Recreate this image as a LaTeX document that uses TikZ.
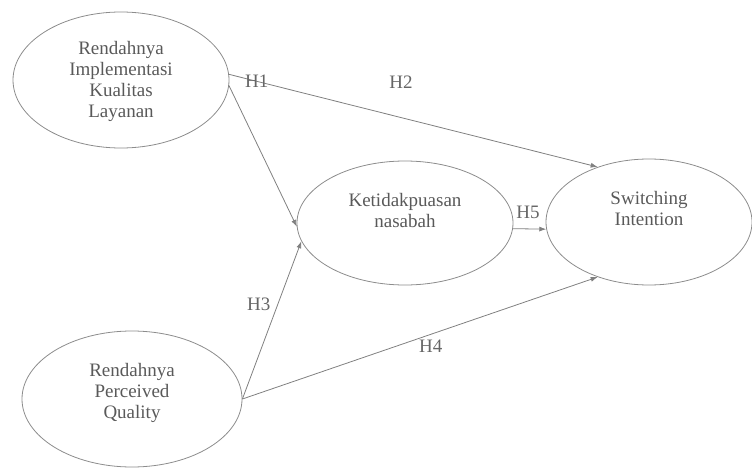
\documentclass[tikz,border=0pt]{standalone}
\usepackage{fontspec}
\setmainfont{Liberation Serif}
\usetikzlibrary{shapes.geometric,arrows.meta}

\begin{document}
\begin{tikzpicture}[x=1pt, y=-1pt,
  variabel/.style={draw=black!45, line width=0.8pt, ellipse, inner sep=0pt,
    text=black!65, font=\fontsize{19}{21}\selectfont},
  jalur/.style={draw=black!50, line width=0.8pt, -{Latex[length=7pt,width=5pt]}},
  hipotesis/.style={text=black!60, inner sep=1pt, font=\fontsize{19}{21}\selectfont}]

  \newcommand\teks[2]{\raisebox{#1}[\height][\depth]{\begin{tabular}{@{}c@{}}#2\end{tabular}}}

  \useasboundingbox (0,0) rectangle (752,468);

  % variabel
  \node[variabel, minimum width=216pt, minimum height=136pt] (kualitas) at (121,80)
    {\teks{-2pt}{Rendahnya\\Implementasi\\Kualitas\\Layanan}};

  \node[variabel, minimum width=216pt, minimum height=124pt] (ket) at (405,223)
    {\teks{10pt}{Ketidakpuasan\\nasabah}};

  \node[variabel, minimum width=206pt, minimum height=126pt] (swi) at (649,222)
    {\teks{11pt}{Switching\\Intention}};

  \node[variabel, minimum width=220pt, minimum height=136pt] (persepsi) at (132,399)
    {\teks{6pt}{Rendahnya\\Perceived\\Quality}};

  % jalur
  \draw[jalur] (kualitas.3) -- node[hipotesis, pos=0.075] (h1) {H1} (swi.133);
  \draw[jalur] (kualitas.-3) -- (ket.182);
  \draw[jalur] (persepsi.east) -- node[hipotesis, pos=0.6, left=6pt] (h3) {H3} (ket.190);
  \draw[jalur] (persepsi.east) -- node[hipotesis, pos=0.53, below=4pt] (h4) {H4} (swi.227);
  \draw[jalur] (ket.-3) -- node[hipotesis, pos=0.45, above=9pt] (h5) {H5} (swi.184);

  \node[hipotesis] (h2) at (401,82) {H2};

\end{tikzpicture}
\end{document}
